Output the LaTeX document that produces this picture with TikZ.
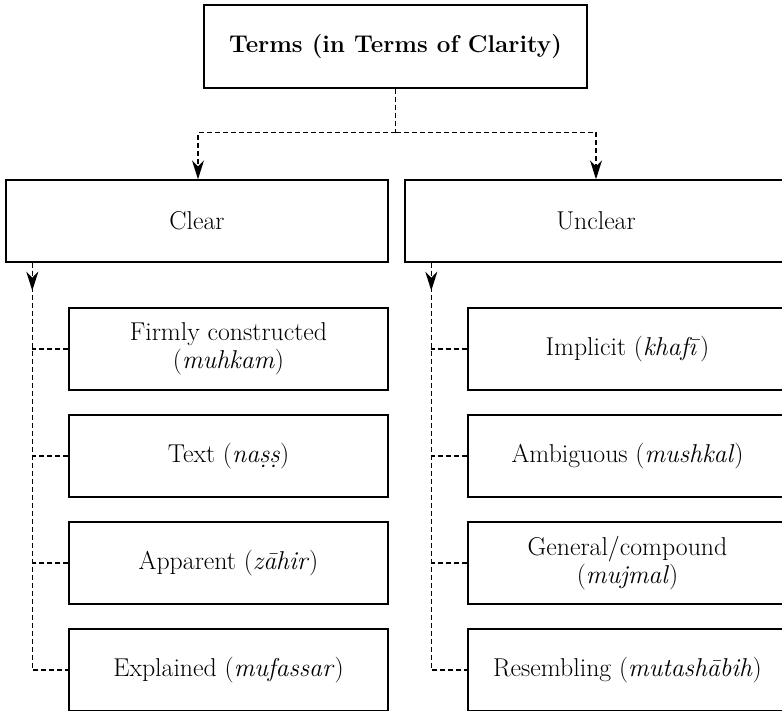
\documentclass[tikz,border=0pt]{standalone}
\usetikzlibrary{arrows.meta,calc}
\begin{document}
\begin{tikzpicture}[x=1pt,y=-1pt,
  box/.style={draw=black,line width=1.4pt,minimum height=82pt,inner sep=0pt,align=center,
    font=\fontsize{25.8}{27.5}\selectfont},
  topbox/.style={box,minimum width=383pt,minimum height=83pt,font=\fontsize{24.2}{27}\selectfont\bfseries},
  midbox/.style={box,minimum width=382pt},
  leaf/.style={box,minimum width=319pt},
  conn/.style={draw=black,line width=1.3pt,dash pattern=on 5pt off 3pt},
  tip/.style={-{Stealth[length=19pt,width=12pt,inset=6pt]}}]
\useasboundingbox (0,0) rectangle (782,710);
\clip (0,0) rectangle (782,710);

\node[topbox] (top) at (395.5,46.5) {Terms (in Terms of Clarity)};
\node[midbox] (clear) at (197,221) {Clear};
\node[midbox] (unclear) at (596,221) {Unclear};

\node[leaf] (l1) at (228.5,349) {Firmly constructed\\(\emph{muhkam})};
\node[leaf] (l2) at (228.5,456) {Text (\emph{na\d{s}\d{s}})};
\node[leaf] (l3) at (228.5,563) {Apparent (\emph{z\=ahir})};
\node[leaf] (l4) at (228.5,670) {Explained (\emph{mufassar})};

\node[leaf] (r1) at (627.5,349) {Implicit (\emph{khaf\={\i}})};
\node[leaf] (r2) at (627.5,456) {Ambiguous (\emph{mushkal})};
\node[leaf] (r3) at (627.5,563) {General/compound\\(\emph{mujmal})};
\node[leaf] (r4) at (627.5,670) {Resembling (\emph{mutash\=abih})};

% top connectors
\coordinate (split) at ($(top.south)+(0,44)$);
\draw[conn] (top.south) -- (split);
\draw[conn,tip] (split) -| ($(clear.north)+(1,0)$);
\draw[conn,tip] (split) -| (unclear.north);

% left trunk
\coordinate (la) at ($(clear.south west)+(27,0)$);
\draw[conn] (la) |- (l4.west);
\draw[conn,tip] (la) -- ++(0,28);
\draw[conn] (l1.west) -- (l1.west -| la);
\draw[conn] (l2.west) -- (l2.west -| la);
\draw[conn] (l3.west) -- (l3.west -| la);

% right trunk
\coordinate (ra) at ($(unclear.south west)+(27,0)$);
\draw[conn] (ra) |- (r4.west);
\draw[conn,tip] (ra) -- ++(0,28);
\draw[conn] (r1.west) -- (r1.west -| ra);
\draw[conn] (r2.west) -- (r2.west -| ra);
\draw[conn] (r3.west) -- (r3.west -| ra);
\end{tikzpicture}
\end{document}
